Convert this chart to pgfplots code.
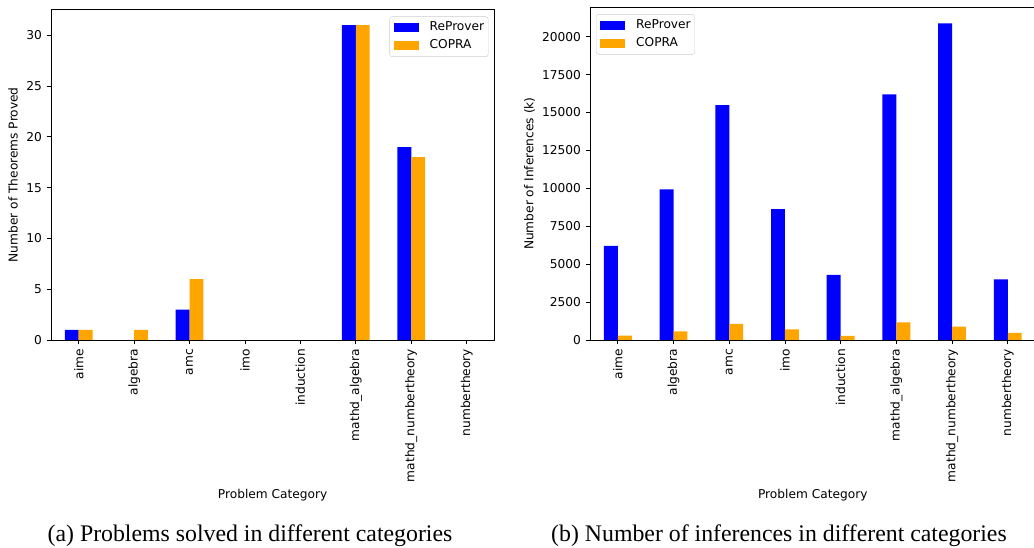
\documentclass[border=0pt]{standalone}
\usepackage{fontspec}
\setmainfont{DejaVu Sans}
\newfontfamily\capfont{Liberation Serif}
\usepackage{pgfplots}
\pgfplotsset{compat=1.18}
\definecolor{mplorange}{RGB}{255,165,0}
\definecolor{mplblue}{RGB}{0,0,255}
\newcommand{\tf}{\fontsize{12.2}{14}\selectfont}
\pgfplotsset{
  mybar/.style={
    scale only axis, anchor=south west,
    xmin=-0.5, xmax=7.5, ymin=0,
    xtick={0,1,2,3,4,5,6,7},
    xticklabels={aime,algebra,amc,imo,induction,mathd\_algebra,mathd\_numbertheory,numbertheory},
    tick align=outside, tick pos=left,
    major tick length=4.3pt,
    tick style={black, line width=0.9pt},
    axis line style={line width=0.9pt},
    scaled y ticks=false,
    xticklabel style={yshift=-4.5pt, rotate=90, anchor=east, font=\tf, inner sep=0pt},
    yticklabel style={xshift=-4.5pt, font=\tf, inner sep=0pt, /pgf/number format/.cd, fixed, precision=0, 1000 sep={}, assume math mode=true},
    xlabel style={font=\tf, at={(rel axis cs:0.5,0)}, anchor=center, yshift=-155pt},
    legend cell align=left,
    legend image code/.code={\draw[#1,draw=none,sharp corners] (0pt,-4.5pt) rectangle (25pt,4.5pt);},
    legend style={font=\tf, draw=black!20, rounded corners=2.5pt, fill=white,
      inner xsep=4pt, inner ysep=5pt, column sep=11pt, row sep=6pt,
      nodes={inner sep=0pt, text height=9pt, text depth=3pt, anchor=west}},
  }
}
\begin{document}
\begin{tikzpicture}
\useasboundingbox (0,0) rectangle (1034pt,548pt);
\begin{axis}[mybar, at={(51pt,208pt)}, width=443.4pt, height=330.5pt, ymax=32.55,
  ytick={0,5,10,15,20,25,30},
  xlabel={Problem Category}, ylabel={Number of Theorems Proved},
  ylabel style={font=\tf, at={(rel axis cs:-0.0857,0.5)}, anchor=center},
  legend style={at={(1,1)}, anchor=north east, xshift=-6pt, yshift=-7pt}]
\addplot[fill=mplblue, draw=none, ybar, bar width=0.25, bar shift=-0.125, y filter/.expression={y==0 ? nan : y}] coordinates {(0,1) (1,0) (2,3) (3,0) (4,0) (5,31) (6,19) (7,0)};
\addplot[fill=mplorange, draw=none, ybar, bar width=0.25, bar shift=0.125, y filter/.expression={y==0 ? nan : y}] coordinates {(0,1) (1,1) (2,6) (3,0) (4,0) (5,31) (6,18) (7,0)};
\legend{ReProver,COPRA}
\end{axis}
\begin{axis}[mybar, at={(590pt,208pt)}, width=445.6pt, height=332.8pt, ymax=21945,
  ytick={0,2500,5000,7500,10000,12500,15000,17500,20000},
  xlabel={Problem Category}, ylabel={Number of Inferences (k)},
  ylabel style={font=\tf, at={(rel axis cs:-0.1358,0.5)}, anchor=center},
  legend style={at={(0,1)}, anchor=north west, xshift=6pt, yshift=-7pt}]
\addplot[fill=mplblue, draw=none, ybar, bar width=0.25, bar shift=-0.125] coordinates {(0,6200) (1,9930) (2,15490) (3,8630) (4,4300) (5,16200) (6,20880) (7,4000)};
\addplot[fill=mplorange, draw=none, ybar, bar width=0.25, bar shift=0.125] coordinates {(0,286) (1,571) (2,1055) (3,703) (4,264) (5,1165) (6,879) (7,462)};
\legend{ReProver,COPRA}
\end{axis}
\node[anchor=base, font=\capfont\fontsize{23.8}{28}\selectfont, inner sep=0pt] at (250pt,6pt) {(a) Problems solved in different categories};
\node[anchor=base, font=\capfont\fontsize{23.8}{28}\selectfont, inner sep=0pt] at (779pt,6pt) {(b) Number of inferences in different categories};
\end{tikzpicture}
\end{document}
